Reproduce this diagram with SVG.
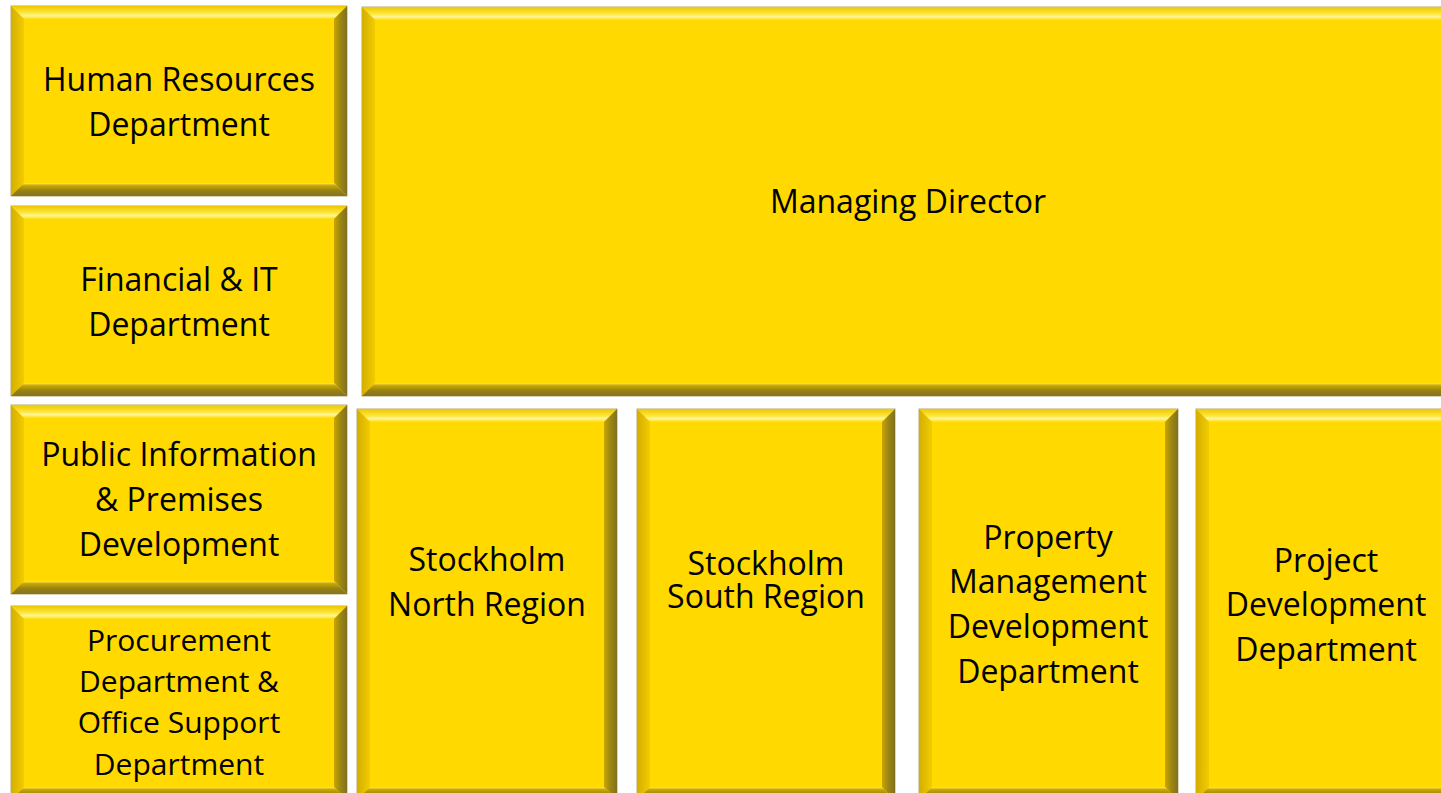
<svg xmlns="http://www.w3.org/2000/svg" width="1441" height="793" viewBox="0 0 1441 793">
<defs>
<linearGradient id="gT" x1="0" y1="0" x2="0" y2="1"><stop offset="0" stop-color="#EEC800"/><stop offset="0.55" stop-color="#FFE840"/><stop offset="0.75" stop-color="#FFF6A0"/><stop offset="1" stop-color="#FFDE00"/></linearGradient>
<linearGradient id="gL" x1="0" y1="0" x2="1" y2="0"><stop offset="0" stop-color="#D4AE00"/><stop offset="1" stop-color="#F2CC00"/></linearGradient>
<linearGradient id="gR" x1="0" y1="0" x2="1" y2="0"><stop offset="0" stop-color="#C8A600"/><stop offset="0.5" stop-color="#9C8614"/><stop offset="1" stop-color="#807020"/></linearGradient>
<linearGradient id="gB" x1="0" y1="0" x2="0" y2="1"><stop offset="0" stop-color="#FFE860"/><stop offset="0.2" stop-color="#C8A800"/><stop offset="0.6" stop-color="#958016"/><stop offset="1" stop-color="#857420"/></linearGradient>
</defs>
<style>
.o{fill:#FFD700;stroke:#B8AA70;stroke-width:1}
.t{fill:url(#gT)}.l{fill:url(#gL)}.r{fill:url(#gR)}.b{fill:url(#gB)}
.f{fill:#FFD900}
text{font-family:"Open Sans","Noto Sans",sans-serif;font-size:32px;fill:#000;text-anchor:middle}
.s{font-size:30px}
</style>
<rect width="1441" height="793" fill="#fff"/>
<g id="hr">
<rect class="o" x="11" y="6" width="336" height="190"/>
<polygon class="t" points="11,6 347,6 334,19 24,19"/>
<polygon class="l" points="11,6 24,19 24,183 11,196"/>
<polygon class="r" points="347,6 347,196 334,183 334,19"/>
<polygon class="b" points="11,196 24,183 334,183 347,196"/>
<rect class="f" x="24" y="19" width="310" height="164"/>
<text><tspan x="179" y="91">Human Resources</tspan><tspan x="179" y="136">Department</tspan></text>
</g>
<g id="fin">
<rect class="o" x="11" y="206" width="336" height="190"/>
<polygon class="t" points="11,206 347,206 334,219 24,219"/>
<polygon class="l" points="11,206 24,219 24,383 11,396"/>
<polygon class="r" points="347,206 347,396 334,383 334,219"/>
<polygon class="b" points="11,396 24,383 334,383 347,396"/>
<rect class="f" x="24" y="219" width="310" height="164"/>
<text><tspan x="179" y="291">Financial &amp; IT</tspan><tspan x="179" y="336">Department</tspan></text>
</g>
<g id="pub">
<rect class="o" x="11" y="405" width="336" height="189"/>
<polygon class="t" points="11,405 347,405 334,418 24,418"/>
<polygon class="l" points="11,405 24,418 24,581 11,594"/>
<polygon class="r" points="347,405 347,594 334,581 334,418"/>
<polygon class="b" points="11,594 24,581 334,581 347,594"/>
<rect class="f" x="24" y="418" width="310" height="163"/>
<text><tspan x="179" y="466">Public Information</tspan><tspan x="179" y="511">&amp; Premises</tspan><tspan x="179" y="556">Development</tspan></text>
</g>
<g id="proc">
<rect class="o" x="11" y="606" width="336" height="194"/>
<polygon class="t" points="11,606 347,606 334,619 24,619"/>
<polygon class="l" points="11,606 24,619 24,787 11,800"/>
<polygon class="r" points="347,606 347,800 334,787 334,619"/>
<polygon class="b" points="11,800 24,787 334,787 347,800"/>
<rect class="f" x="24" y="619" width="310" height="168"/>
<text class="s"><tspan x="179" y="651">Procurement</tspan><tspan x="179" y="692">Department &amp;</tspan><tspan x="179" y="733">Office Support</tspan><tspan x="179" y="775">Department</tspan></text>
</g>
<g id="md">
<rect class="o" x="362" y="7" width="1100" height="389"/>
<polygon class="t" points="362,7 1462,7 1449,20 375,20"/>
<polygon class="l" points="362,7 375,20 375,383 362,396"/>
<polygon class="b" points="362,396 375,383 1449,383 1462,396"/>
<rect class="f" x="375" y="20" width="1080" height="363"/>
<text x="908" y="213">Managing Director</text>
</g>
<g id="sn">
<rect class="o" x="357" y="409" width="260" height="391"/>
<polygon class="t" points="357,409 617,409 604,422 370,422"/>
<polygon class="l" points="357,409 370,422 370,787 357,800"/>
<polygon class="r" points="617,409 617,800 604,787 604,422"/>
<polygon class="b" points="357,800 370,787 604,787 617,800"/>
<rect class="f" x="370" y="422" width="234" height="365"/>
<text><tspan x="487" y="571">Stockholm</tspan><tspan x="487" y="616">North Region</tspan></text>
</g>
<g id="ss">
<rect class="o" x="637" y="409" width="258" height="391"/>
<polygon class="t" points="637,409 895,409 882,422 650,422"/>
<polygon class="l" points="637,409 650,422 650,787 637,800"/>
<polygon class="r" points="895,409 895,800 882,787 882,422"/>
<polygon class="b" points="637,800 650,787 882,787 895,800"/>
<rect class="f" x="650" y="422" width="232" height="365"/>
<text><tspan x="766" y="575">Stockholm</tspan><tspan x="766" y="608">South Region</tspan></text>
</g>
<g id="pm">
<rect class="o" x="919" y="409" width="259" height="391"/>
<polygon class="t" points="919,409 1178,409 1165,422 932,422"/>
<polygon class="l" points="919,409 932,422 932,787 919,800"/>
<polygon class="r" points="1178,409 1178,800 1165,787 1165,422"/>
<polygon class="b" points="919,800 932,787 1165,787 1178,800"/>
<rect class="f" x="932" y="422" width="233" height="365"/>
<text><tspan x="1048" y="549">Property</tspan><tspan x="1048" y="593">Management</tspan><tspan x="1048" y="638">Development</tspan><tspan x="1048" y="683">Department</tspan></text>
</g>
<g id="pd">
<rect class="o" x="1196" y="409" width="270" height="391"/>
<polygon class="t" points="1196,409 1466,409 1453,422 1209,422"/>
<polygon class="l" points="1196,409 1209,422 1209,787 1196,800"/>
<polygon class="b" points="1196,800 1209,787 1453,787 1466,800"/>
<rect class="f" x="1209" y="422" width="244" height="365"/>
<text><tspan x="1326" y="572">Project</tspan><tspan x="1326" y="616">Development</tspan><tspan x="1326" y="661">Department</tspan></text>
</g>
<g id="connectors"/>
</svg>
